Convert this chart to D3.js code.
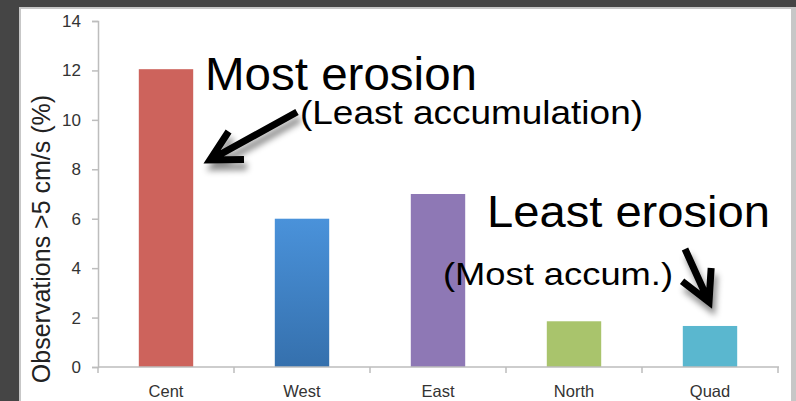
<!DOCTYPE html>
<html>
<head>
<meta charset="utf-8">
<script src="https://cdn.jsdelivr.net/npm/d3@7/dist/d3.min.js"></script>
<style>
  html, body { margin: 0; padding: 0; background: #454545; }
  svg { display: block; }
  text { font-family: "Liberation Sans", Arial, sans-serif; }
</style>
</head>
<body>
<svg id="chart" width="796" height="401"></svg>
<script>
// Share of current-meter observations above 5 cm/s, by site
const categories = ["Cent", "West", "East", "North", "Quad"];
const values = [12.05, 6.0, 7.0, 1.85, 1.66];
const barColors = ["#cd635c", "#4189d2", "#8e78b5", "#a9c46c", "#5ab7cf"];
const yTicks = [0, 2, 4, 6, 8, 10, 12, 14];
const yTitle = "Observations >5 cm/s (%)";

const svg = d3.select("#chart");
const W = 796, H = 401;

// slide panel: light grey frame on a dark background
svg.append("rect").attr("x", 19).attr("y", 7).attr("width", W - 19).attr("height", H)
  .attr("fill", "#c7c7c7");
svg.append("rect").attr("x", 21).attr("y", 9).attr("width", 770).attr("height", H)
  .attr("fill", "#ffffff");

const plot = { left: 98, right: 778, top: 21, bottom: 367 };

const x = d3.scaleBand().domain(categories)
  .range([plot.left, plot.right]).paddingInner(0.6).paddingOuter(0.3);
const y = d3.scaleLinear().domain([0, 14]).range([plot.bottom, plot.top]);

const defs = svg.append("defs");

// West bar carries a soft vertical gradient
const grad = defs.append("linearGradient").attr("id", "westGrad")
  .attr("x1", 0).attr("y1", 0).attr("x2", 0).attr("y2", 1);
grad.append("stop").attr("offset", "0%").attr("stop-color", "#4a92da");
grad.append("stop").attr("offset", "100%").attr("stop-color", "#3570ad");

const shadow = defs.append("filter").attr("id", "arrowShadow")
  .attr("x", "-50%").attr("y", "-50%").attr("width", "200%").attr("height", "200%");
shadow.append("feDropShadow").attr("dx", 3).attr("dy", 7).attr("stdDeviation", 3)
  .attr("flood-color", "#000").attr("flood-opacity", 0.45);

// bars
svg.append("g").selectAll("rect").data(categories).join("rect")
  .attr("x", d => x(d))
  .attr("y", (d, i) => y(values[i]))
  .attr("width", x.bandwidth())
  .attr("height", (d, i) => y(0) - y(values[i]))
  .attr("fill", (d, i) => d === "West" ? "url(#westGrad)" : barColors[i]);

// y axis
const yAxis = svg.append("g").attr("transform", `translate(${plot.left},0)`)
  .call(d3.axisLeft(y).tickValues(yTicks).tickSize(6).tickPadding(11).tickFormat(d3.format("d")));
yAxis.select(".domain").attr("stroke", "#bdbdbd").attr("stroke-width", 1.5);
yAxis.selectAll(".tick line").attr("stroke", "#bdbdbd").attr("stroke-width", 1.5);
yAxis.selectAll(".tick text").attr("font-size", 17).attr("fill", "#333")
  .attr("font-family", "Liberation Sans, Arial, sans-serif");

// x axis: ticks sit on the category boundaries
const xAxis = svg.append("g").attr("transform", `translate(0,${plot.bottom})`);
const boundaries = d3.range(categories.length + 1).map(i => plot.left + i * x.step());
xAxis.append("line").attr("x1", plot.left).attr("x2", plot.right + 1)
  .attr("stroke", "#bdbdbd").attr("stroke-width", 1.5);
xAxis.selectAll("line.tick").data(boundaries).join("line").attr("class", "tick")
  .attr("x1", d => d).attr("x2", d => d).attr("y1", 0).attr("y2", 6)
  .attr("stroke", "#bdbdbd").attr("stroke-width", 1.5);
xAxis.selectAll("text").data(categories).join("text")
  .attr("x", d => x(d) + x.bandwidth() / 2).attr("y", 30)
  .attr("text-anchor", "middle").attr("font-size", 16.5).attr("fill", "#333")
  .text(d => d);

// y axis title
svg.append("text")
  .attr("transform", `translate(50,${(plot.top + plot.bottom) / 2 + 45}) rotate(-90)`)
  .attr("text-anchor", "middle").attr("font-size", 25).attr("fill", "#222")
  .text(yTitle);

// annotations
const notes = [
  { text: "Most erosion", x: 205, y: 90, size: 46, len: 272 },
  { text: "(Least accumulation)", x: 300, y: 124, size: 33, len: 343 },
  { text: "Least erosion", x: 487, y: 227, size: 45, len: 283 },
  { text: "(Most accum.)", x: 443, y: 285, size: 32, len: 230 }
];
svg.append("g").selectAll("text").data(notes).join("text")
  .attr("x", d => d.x).attr("y", d => d.y)
  .attr("font-size", d => d.size)
  .attr("textLength", d => d.len).attr("lengthAdjust", "spacingAndGlyphs")
  .attr("fill", "#000").text(d => d.text);

const arrows = [
  { from: [297, 112], to: [210, 160] },
  { from: [685, 249], to: [709, 302] }
];
function arrowPath(a) {
  const [x0, y0] = a.from, [x1, y1] = a.to;
  const ang = Math.atan2(y0 - y1, x0 - x1);
  const head = 34, spread = 28 * Math.PI / 180;
  const b1 = [x1 + head * Math.cos(ang + spread), y1 + head * Math.sin(ang + spread)];
  const b2 = [x1 + head * Math.cos(ang - spread), y1 + head * Math.sin(ang - spread)];
  const p = d3.path();
  p.moveTo(x0, y0); p.lineTo(x1, y1);
  p.moveTo(b1[0], b1[1]); p.lineTo(x1, y1); p.lineTo(b2[0], b2[1]);
  return p.toString();
}
svg.append("g").attr("filter", "url(#arrowShadow)")
  .selectAll("path").data(arrows).join("path")
  .attr("d", arrowPath)
  .attr("fill", "none").attr("stroke", "#000").attr("stroke-width", 7)
  .attr("stroke-linejoin", "miter").attr("stroke-linecap", "butt");
</script>
</body>
</html>
